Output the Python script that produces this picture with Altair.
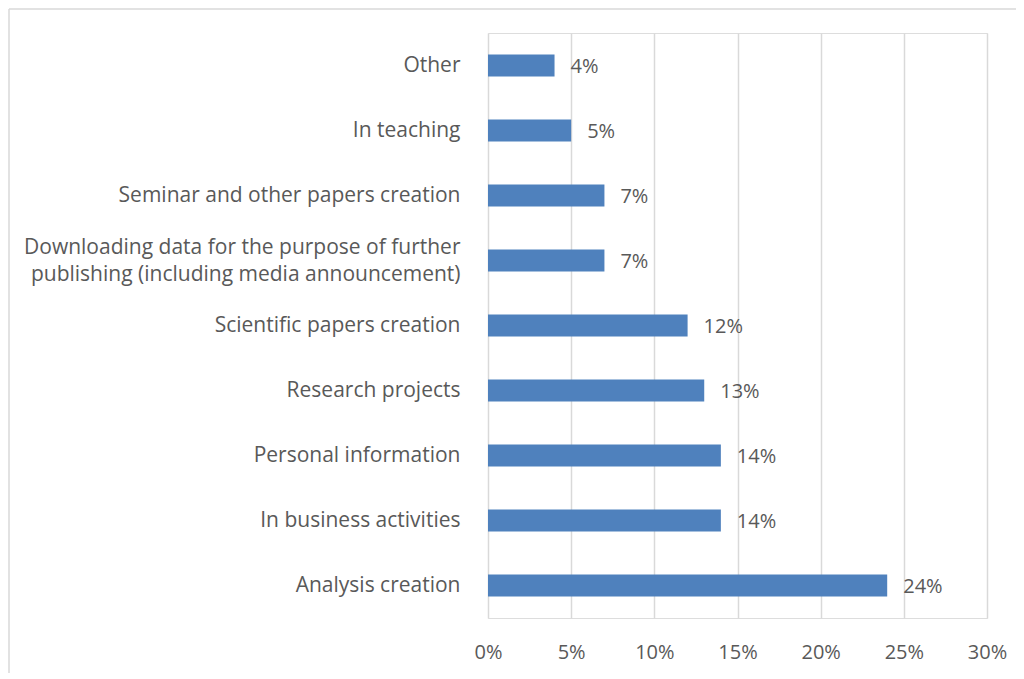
import altair as alt
import pandas as pd

categories = [
    "Other",
    "In teaching",
    "Seminar and other papers creation",
    "Downloading data for the purpose of further|publishing (including media announcement)",
    "Scientific papers creation",
    "Research projects",
    "Personal information",
    "In business activities",
    "Analysis creation",
]
values = [0.04, 0.05, 0.07, 0.07, 0.12, 0.13, 0.14, 0.14, 0.24]
value_labels = ["4%", "5%", "7%", "7%", "12%", "13%", "14%", "14%", "24%"]
x_ticks = [0, 0.05, 0.10, 0.15, 0.20, 0.25, 0.30]

df = pd.DataFrame({"cat": categories, "val": values, "lab": value_labels})

FONT = "Open Sans"
TXT = "#595959"

y_enc = alt.Y(
    "cat:N",
    sort=categories,
    scale=alt.Scale(paddingInner=0.66, paddingOuter=0.33),
    axis=alt.Axis(
        title=None, ticks=False, domain=False, labelPadding=28,
        labelFont=FONT, labelFontSize=21, labelColor=TXT,
        labelLimit=600, labelLineHeight=27,
        labelExpr="split(datum.label, '|')",
        labelBaseline={
            "condition": {"test": "indexof(datum.value, '|') >= 0", "value": "line-bottom"},
            "value": "middle",
        },
    ),
)
x_enc = alt.X(
    "val:Q",
    scale=alt.Scale(domain=[0, 0.30]),
    axis=alt.Axis(
        title=None, format=".0%", values=x_ticks, ticks=False, domain=False,
        labelPadding=24, labelFont=FONT, labelFontSize=20, labelColor=TXT,
        labelFlush=False, gridColor="#d9d9d9", gridWidth=1.5,
    ),
)

bars = alt.Chart(df).mark_bar(color="#4f81bd").encode(x=x_enc, y=y_enc)
texts = alt.Chart(df).mark_text(
    align="left", baseline="middle", dx=16, dy=1, font=FONT, fontSize=20, color=TXT
).encode(x="val:Q", y=alt.Y("cat:N", sort=categories), text="lab:N")

border_df = pd.DataFrame({"a": [0]})
left_line = alt.Chart(border_df).mark_rule(color="#d9d9d9", strokeWidth=1.5).encode(
    x=alt.value(-479), y=alt.value(-24), y2=alt.value(700)
)
top_line = alt.Chart(border_df).mark_rule(color="#d9d9d9", strokeWidth=1.5).encode(
    x=alt.value(-479), x2=alt.value(600), y=alt.value(-24)
)

chart = (
    alt.layer(bars, texts, left_line, top_line)
    .properties(
        width=499, height=585,
        autosize=alt.AutoSizeParams(type="none"),
        padding={"left": 480, "top": 25, "right": 29, "bottom": 55},
    )
    .configure_view(stroke=None)
    .configure(background="white")
)

chart.save("out.html", embed_options={"renderer": "svg", "actions": False})
